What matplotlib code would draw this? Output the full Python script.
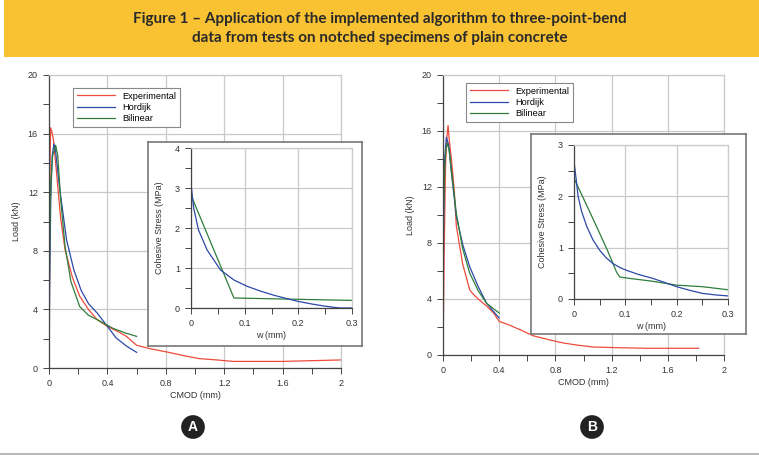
import matplotlib
matplotlib.use("Agg")
import matplotlib.pyplot as plt
from matplotlib.patches import Rectangle
from matplotlib.lines import Line2D
from matplotlib.ticker import MultipleLocator

plt.rcParams['font.family'] = ['Liberation Sans', 'DejaVu Sans']

# ---------------- Data: panel A ----------------
a_exp_x = [0.0, 0.004, 0.008, 0.011, 0.02, 0.03, 0.05, 0.08, 0.11, 0.16, 0.21, 0.27, 0.33, 0.40, 0.47, 0.53, 0.60, 0.70, 0.81, 0.92, 1.03, 1.15, 1.26, 1.40, 1.60, 1.80, 2.0]
a_exp_y = [0.0, 8.0, 14.5, 16.4, 16.1, 15.6, 13.5, 10.2, 8.07, 6.2, 4.9, 4.0, 3.3, 2.84, 2.5, 2.16, 1.55, 1.3, 1.09, 0.85, 0.64, 0.55, 0.45, 0.45, 0.45, 0.5, 0.55]
a_hor_x = [0.0, 0.005, 0.012, 0.022, 0.034, 0.045, 0.07, 0.12, 0.17, 0.22, 0.27, 0.33, 0.40, 0.46, 0.53, 0.60]
a_hor_y = [0.0, 6.0, 11.5, 14.5, 15.3, 14.8, 12.5, 8.75, 6.7, 5.3, 4.4, 3.75, 2.84, 2.05, 1.5, 1.07]
a_bil_x = [0.0, 0.004, 0.012, 0.025, 0.046, 0.06, 0.08, 0.11, 0.15, 0.21, 0.27, 0.33, 0.44, 0.52, 0.60]
a_bil_y = [0.0, 8.0, 12.5, 14.5, 15.2, 14.5, 11.5, 8.3, 5.9, 4.2, 3.6, 3.3, 2.7, 2.4, 2.16]

a_in_hor_w = [0.0, 0.005, 0.014, 0.03, 0.055, 0.08, 0.105, 0.13, 0.154, 0.18, 0.198, 0.225, 0.248, 0.27, 0.28, 0.3]
a_in_hor_s = [3.1, 2.5, 1.95, 1.45, 0.95, 0.70, 0.54, 0.42, 0.32, 0.23, 0.17, 0.10, 0.05, 0.01, 0.0, 0.0]
a_in_bil_w = [0.0, 0.08, 0.3]
a_in_bil_s = [2.82, 0.25, 0.19]

# ---------------- Data: panel B ----------------
b_exp_x = [0.0, 0.008, 0.018, 0.028, 0.036, 0.045, 0.06, 0.08, 0.095, 0.14, 0.19, 0.21, 0.25, 0.31, 0.36, 0.40, 0.47, 0.55, 0.64, 0.75, 0.855, 0.96, 1.07, 1.25, 1.45, 1.65, 1.82]
b_exp_y = [0.0, 7.0, 13.5, 15.6, 16.4, 15.3, 14.0, 11.8, 9.2, 6.5, 4.66, 4.4, 4.0, 3.5, 3.0, 2.4, 2.15, 1.8, 1.38, 1.1, 0.86, 0.7, 0.57, 0.52, 0.48, 0.48, 0.48]
b_hor_x = [0.0, 0.004, 0.012, 0.024, 0.04, 0.06, 0.095, 0.14, 0.19, 0.25, 0.31, 0.36, 0.40]
b_hor_y = [0.0, 9.0, 14.0, 15.55, 15.0, 13.0, 9.9, 7.9, 6.3, 4.9, 3.7, 3.1, 2.64]
b_bil_x = [0.0, 0.004, 0.012, 0.022, 0.031, 0.045, 0.06, 0.095, 0.14, 0.19, 0.25, 0.31, 0.36, 0.40]
b_bil_y = [0.0, 10.0, 13.5, 14.8, 15.1, 14.6, 13.2, 10.1, 7.6, 5.85, 4.6, 3.7, 3.3, 3.0]

b_in_hor_w = [0.0, 0.004, 0.008, 0.015, 0.025, 0.037, 0.05, 0.063, 0.076, 0.09, 0.102, 0.125, 0.154, 0.18, 0.2, 0.225, 0.25, 0.275, 0.3]
b_in_hor_s = [2.68, 2.35, 2.0, 1.7, 1.41, 1.15, 0.95, 0.80, 0.69, 0.61, 0.56, 0.48, 0.40, 0.31, 0.24, 0.17, 0.11, 0.08, 0.06]
b_in_bil_w = [0.0, 0.025, 0.05, 0.065, 0.076, 0.083, 0.089, 0.109, 0.15, 0.2, 0.25, 0.3]
b_in_bil_s = [2.35, 1.82, 1.28, 0.95, 0.69, 0.52, 0.43, 0.40, 0.35, 0.27, 0.24, 0.18]

title_lines = ["Figure 1 \u2013 Application of the implemented algorithm to three-point-bend",
               "data from tests on notched specimens of plain concrete"]
legend_labels = ["Experimental", "Hordijk", "Bilinear"]
panel_letters = ["A", "B"]

RED = '#ee4b3a'
BLUE = '#2c48a8'
GREEN = '#2e7d3a'
GRID = '#c9c9c9'
AXC = '#444444'
TXT = '#333333'

W, H = 759, 459
fig = plt.figure(figsize=(W / 100, H / 100), dpi=100)
fig.patch.set_facecolor('white')


def fr(x0, y0, x1, y1):
    return [x0 / W, 1 - y1 / H, (x1 - x0) / W, (y1 - y0) / H]


# banner
fig.patches.append(Rectangle((4 / W, 1 - 57 / H), 1 - 4 / W, 57 / H, transform=fig.transFigure,
                             facecolor='#f8c233', edgecolor='none', zorder=0))
fig.text(0.5, 1 - 19 / H, title_lines[0], ha='center', va='center', fontsize=11,
         family=['Lato', 'DejaVu Sans'], weight='bold', color='#2a2a2a')
fig.text(0.5, 1 - 38 / H, title_lines[1], ha='center', va='center', fontsize=11,
         family=['Lato', 'DejaVu Sans'], weight='bold', color='#2a2a2a')

# bottom line
fig.lines.append(Line2D([0, 1], [1 - 454 / H, 1 - 454 / H], transform=fig.transFigure,
                        color='#aaaaaa', lw=1.2))


def style_axes(ax, xmaj, xmin, ymaj, ymin, fs=6.5):
    ax.xaxis.set_major_locator(MultipleLocator(xmaj))
    ax.xaxis.set_minor_locator(MultipleLocator(xmin))
    ax.yaxis.set_major_locator(MultipleLocator(ymaj))
    ax.yaxis.set_minor_locator(MultipleLocator(ymin))
    ax.grid(True, which='major', color=GRID, lw=0.9)
    ax.set_axisbelow(True)
    for s in ['top', 'right']:
        ax.spines[s].set_color(GRID)
        ax.spines[s].set_linewidth(0.9)
    for s in ['left', 'bottom']:
        ax.spines[s].set_color(AXC)
        ax.spines[s].set_linewidth(0.9)
    ax.tick_params(which='both', direction='out', length=4, width=0.7, color=AXC,
                   labelsize=fs, labelcolor=TXT, top=False, right=False, pad=4)


def fmt(v):
    return '%g' % v


def make_panel(main_box, frame_box, inset_box, leg_xy, exp, hor, bil, inhor, inbil,
               inset_ylim, letter_xy, letter):
    ax = fig.add_axes(fr(*main_box))
    ax.plot(exp[0], exp[1], color=RED, lw=0.9, label=legend_labels[0])
    ax.plot(hor[0], hor[1], color=BLUE, lw=0.9, label=legend_labels[1])
    ax.plot(bil[0], bil[1], color=GREEN, lw=0.9, label=legend_labels[2])
    ax.set_xlim(0, 2)
    ax.set_ylim(0, 20)
    style_axes(ax, 0.4, 0.2, 4, 2)
    ax.xaxis.set_major_formatter(matplotlib.ticker.FuncFormatter(lambda v, p: fmt(round(v, 2))))
    ax.set_xlabel('CMOD (mm)', fontsize=6.5, color=TXT, labelpad=2)
    ax.set_ylabel('Load (kN)', fontsize=6.5, color=TXT, labelpad=5)
    leg = ax.legend(loc='upper left', bbox_to_anchor=(leg_xy[0] / W, 1 - leg_xy[1] / H),
                    bbox_transform=fig.transFigure, fontsize=6.6, frameon=True, fancybox=False,
                    edgecolor='#888888', framealpha=1, handlelength=4.2, handletextpad=0.8,
                    borderpad=0.4, labelspacing=0.25, borderaxespad=0)
    leg.get_frame().set_linewidth(0.8)

    fax = fig.add_axes(fr(*frame_box))
    fax.set_xticks([])
    fax.set_yticks([])
    for s in fax.spines.values():
        s.set_color('#777777')
        s.set_linewidth(1.2)
    fax.set_facecolor('white')

    iax = fig.add_axes(fr(*inset_box))
    iax.plot(inbil[0], inbil[1], color=GREEN, lw=0.9)
    iax.plot(inhor[0], inhor[1], color=BLUE, lw=0.9)
    iax.set_xlim(0, 0.3)
    iax.set_ylim(*inset_ylim)
    style_axes(iax, 0.1, 0.05, 1, 0.5)
    iax.xaxis.set_major_formatter(matplotlib.ticker.FuncFormatter(lambda v, p: fmt(round(v, 2))))
    iax.set_xlabel('w (mm)', fontsize=6.5, color=TXT, labelpad=2)
    iax.set_ylabel('Cohesive Stress (MPa)', fontsize=6.5, color=TXT, labelpad=8)

    fig.text(letter_xy[0] / W, 1 - letter_xy[1] / H, letter, ha='center', va='center',
             fontsize=10, weight='bold', color='white',
             bbox=dict(boxstyle='circle,pad=0.35', fc='#222222', ec='none'))


make_panel((49, 75, 341, 368), (148, 142, 362, 346), (191, 148, 352, 308), (73, 88),
           (a_exp_x, a_exp_y), (a_hor_x, a_hor_y), (a_bil_x, a_bil_y),
           (a_in_hor_w, a_in_hor_s), (a_in_bil_w, a_in_bil_s), (0, 4), (193, 427), panel_letters[0])
make_panel((443, 75, 724, 355), (531, 134, 746, 334), (574, 145, 728, 299), (466, 83),
           (b_exp_x, b_exp_y), (b_hor_x, b_hor_y), (b_bil_x, b_bil_y),
           (b_in_hor_w, b_in_hor_s), (b_in_bil_w, b_in_bil_s), (0, 3), (592, 427), panel_letters[1])

fig.savefig('out.png', dpi=100, facecolor='white')
